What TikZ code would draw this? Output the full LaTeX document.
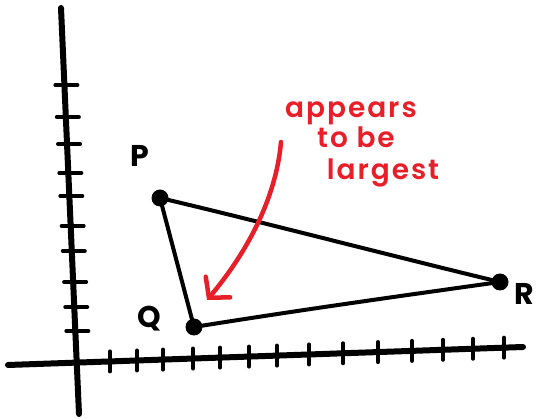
\documentclass[tikz,border=0pt]{standalone}
\usepackage{fontspec}
\newfontfamily\hand[LetterSpace=6]{Poppins}
\newfontfamily\handsb[LetterSpace=7]{Poppins SemiBold}
\usetikzlibrary{arrows.meta,calc}
\definecolor{pen}{RGB}{232,30,40}
\begin{document}
\begin{tikzpicture}[x=1pt,y=-1pt,
  axis/.style={line width=6pt,line cap=round},
  tickmark/.style={line width=4pt,line cap=round},
  edge/.style={line width=4pt,line cap=round,line join=round},
  dot/.style={circle,fill=black,inner sep=0pt,minimum size=17pt},
  lbl/.style={font=\hand\fontsize{30}{32}\selectfont\bfseries,inner sep=0pt},
  note/.style={font=\handsb\fontsize{28}{30}\selectfont,text=pen,inner sep=0pt,anchor=base},
  redarrow/.style={draw=pen,line width=4.5pt,line cap=round,-{Straight Barb[length=14pt,width=32pt,line width=4.5pt,line cap=round]}}]
\useasboundingbox (0,0) rectangle (539,419);
% axes
\coordinate (ytop) at (61,8);
\coordinate (ybot) at (79,414);
\coordinate (xl) at (8,365);
\coordinate (xr) at (523,347);
\draw[axis] (ytop) -- (ybot);
\draw[axis] (xl) -- (xr);
% y ticks
\foreach \y in {85,117,144,173,196,226,251,282,307,331}{
  \pgfmathsetmacro\xx{61+(\y-8)*18/406}
  \draw[tickmark] (\xx-9,\y) -- (\xx+13,\y);
}
% x ticks
\foreach \x in {110,137,163,193,220,249,277,309,343,378,412,443,473,504}{
  \pgfmathsetmacro\yy{365-(\x-8)*18/515}
  \draw[tickmark] (\x,\yy-10) -- (\x,\yy+10);
}
% triangle
\node[dot] (P) at (160,198) {};
\node[dot] (Q) at (194,327) {};
\node[dot] (R) at (500,282) {};
\draw[edge] (P.center) .. controls (250,219) and (400,258) .. (R.center);
\draw[edge] (R.center) .. controls (400,296) and (300,310) .. (Q.center);
\draw[edge] (Q.center) -- (P.center);
% labels
\node[lbl] (lP) at (140,156) {P};
\node[lbl] (lQ) at (149,319) {Q};
\node[lbl] (lR) at (524,294) {R};
% note
\node[note] (t1) at (351,118) {appears};
\node[note] (t2) at (356,148) {to be};
\node[note] (t3) at (383,180) {largest};
\coordinate (as) at (281,142);
\coordinate (ae) at (207,300);
\draw[redarrow] (as) .. controls (276,200) and (245,255) .. (ae);
\end{tikzpicture}
\end{document}
